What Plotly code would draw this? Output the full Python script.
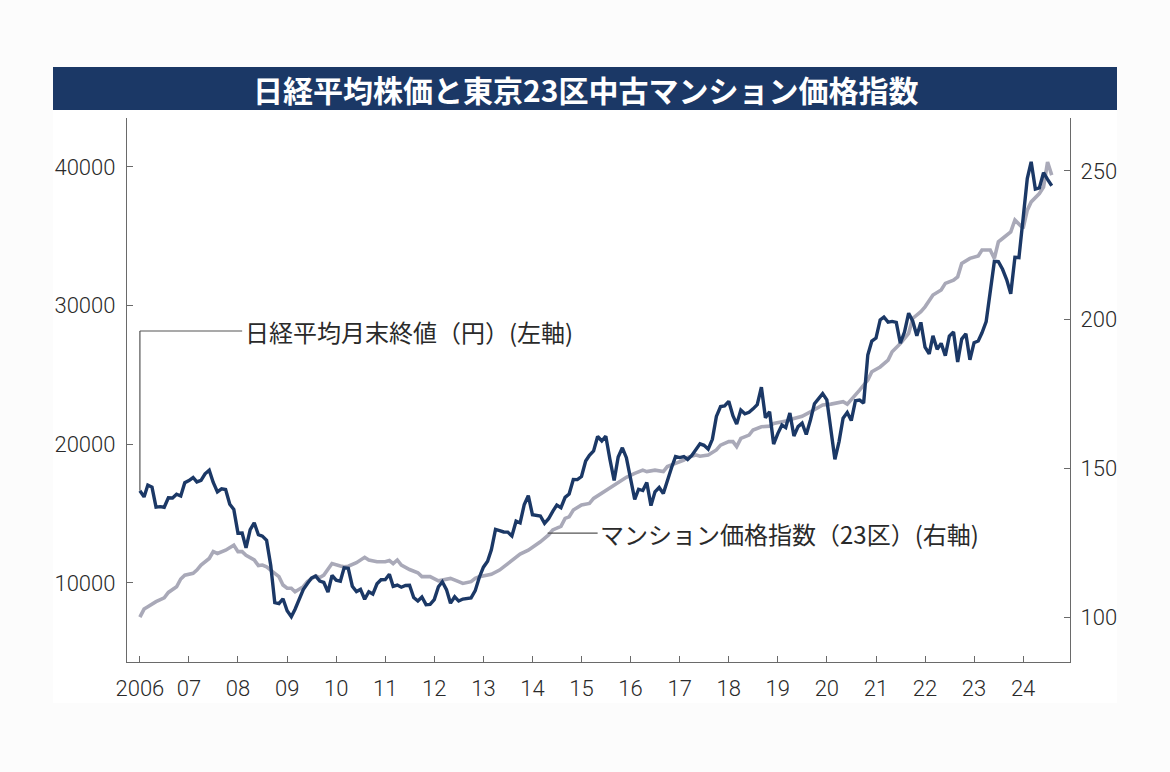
import pandas as pd
import plotly.graph_objects as go

# ---------------- data ----------------
title_text = "日経平均株価と東京23区中古マンション価格指数"
nikkei_label = "日経平均月末終値（円）(左軸)"
index_label = "マンション価格指数（23区）(右軸)"

# Nikkei 225 month-end close (yen), monthly from Jan 2006
nikkei_start = "2006-01-01"
nikkei_close = [
    16650, 16205, 17059, 16906, 15467, 15505, 15456, 16140, 16127, 16399, 16274, 17225,  # 2006
    17383, 17604, 17287, 17400, 17875, 18138, 17248, 16569, 16785, 16737, 15680, 15307,  # 2007
    13592, 13603, 12525, 13849, 14338, 13481, 13376, 13072, 11259, 8576, 8512, 8859,     # 2008
    7994, 7568, 8109, 8828, 9522, 9958, 10356, 10492, 10133, 10034, 9345, 10546,         # 2009
    10198, 10126, 11089, 11057, 9768, 9382, 9537, 8824, 9369, 9202, 9937, 10228,         # 2010
    10237, 10624, 9755, 9849, 9693, 9816, 9833, 8955, 8700, 8988, 8434, 8455,            # 2011
    8802, 9723, 10083, 9520, 8542, 9006, 8695, 8839, 8870, 8928, 9446, 10395,            # 2012
    11138, 11559, 12397, 13860, 13775, 13677, 13668, 13389, 14456, 14327, 15662, 16291,  # 2013
    14915, 14841, 14828, 14304, 14632, 15162, 15621, 15425, 16174, 16414, 17460, 17451,  # 2014
    17674, 18798, 19207, 19520, 20563, 20236, 20585, 18890, 17388, 19083, 19747, 19034,  # 2015
    17518, 16027, 16759, 16666, 17235, 15576, 16569, 16887, 16450, 17425, 18308, 19114,  # 2016
    19041, 19119, 18909, 19197, 19651, 20033, 19925, 19646, 20356, 22012, 22725, 22765,  # 2017
    23098, 22068, 21454, 22468, 22202, 22305, 22554, 22865, 24120, 21920, 22351, 20015,  # 2018
    20773, 21385, 21206, 22259, 20601, 21276, 21522, 20704, 21756, 22927, 23294, 23657,  # 2019
    23205, 21143, 18917, 20194, 21878, 22288, 21710, 23140, 23185, 22977, 26434, 27444,  # 2020
    27663, 28966, 29179, 28813, 28860, 28792, 27284, 28090, 29453, 28893, 27822, 28792,  # 2021
    27002, 26527, 27821, 26848, 27280, 26393, 27802, 28092, 25937, 27587, 27969, 26095,  # 2022
    27327, 27446, 28041, 28856, 30888, 33189, 33172, 32619, 31858, 30859, 33487, 33464,  # 2023
    36287, 39166, 40369, 38406, 38488, 39583, 39102, 38648,                              # 2024
]

# Tokyo 23-ward used condominium price index
index_dates = [
    "2006-01", "2006-02", "2006-03", "2006-05", "2006-07", "2006-08", "2006-10", "2006-11", "2006-12",
    "2007-02", "2007-03", "2007-04", "2007-06", "2007-07", "2007-08", "2007-09", "2007-10", "2007-12",
    "2008-01", "2008-02", "2008-03", "2008-05", "2008-06", "2008-07", "2008-08", "2008-10", "2008-11", "2008-12",
    "2009-01", "2009-02", "2009-03", "2009-05", "2009-06", "2009-08", "2009-09", "2009-10", "2009-12",
    "2010-02", "2010-03", "2010-04", "2010-06", "2010-08", "2010-09", "2010-11",
    "2011-01", "2011-02", "2011-03", "2011-04", "2011-05", "2011-07", "2011-09", "2011-10", "2011-12",
    "2012-02", "2012-03", "2012-05", "2012-07", "2012-08", "2012-10", "2012-11", "2012-12",
    "2013-02", "2013-03", "2013-05", "2013-07", "2013-08", "2013-10", "2013-12",
    "2014-01", "2014-03", "2014-05", "2014-06", "2014-08", "2014-09", "2014-10", "2014-11",
    "2015-01", "2015-03", "2015-04", "2015-06", "2015-08", "2015-09", "2015-11", "2015-12",
    "2016-02", "2016-04", "2016-05", "2016-07", "2016-09", "2016-10", "2016-12",
    "2017-02", "2017-03", "2017-05", "2017-06", "2017-08", "2017-10", "2017-11",
    "2018-01", "2018-02", "2018-03", "2018-04", "2018-06", "2018-07", "2018-09", "2018-11", "2018-12",
    "2019-02", "2019-04", "2019-05", "2019-07", "2019-09", "2019-11", "2019-12",
    "2020-02", "2020-04", "2020-05", "2020-06", "2020-08", "2020-09", "2020-11", "2020-12",
    "2021-02", "2021-04", "2021-05", "2021-07", "2021-09", "2021-10", "2021-12",
    "2022-01", "2022-03", "2022-05", "2022-06", "2022-08", "2022-09", "2022-10", "2022-12",
    "2023-02", "2023-03", "2023-05", "2023-06", "2023-07", "2023-08", "2023-10", "2023-11",
    "2024-01", "2024-02", "2024-03", "2024-05", "2024-06", "2024-07", "2024-08",
]
index_values = [
    100.0, 102.7, 103.5, 105.2, 106.5, 108.3, 110.2, 112.8, 114.1,
    114.7, 115.8, 117.5, 119.7, 122.0, 121.4, 122.0, 122.5, 124.2,
    122.0, 122.0, 120.8, 119.2, 117.3, 117.5, 116.9, 114.7, 113.6, 110.8,
    109.7, 109.7, 108.5, 110.2, 111.9, 113.9, 113.3, 114.1, 118.0,
    117.2, 116.9, 117.1, 118.3, 120.1, 119.2, 118.6,
    118.6, 119.0, 118.0, 119.2, 117.5, 116.0, 114.9, 113.6, 113.6,
    112.2, 112.4, 113.0, 111.9, 111.3, 111.9, 113.0, 113.6,
    114.1, 114.4, 115.8, 118.0, 119.2, 121.2, 122.5,
    123.4, 125.3, 127.6, 129.3, 130.5, 133.2, 133.7, 136.0,
    137.7, 138.2, 139.9, 141.6, 143.3, 144.4, 146.1, 147.0,
    148.3, 149.4, 148.9, 149.4, 148.9, 150.6, 151.7,
    152.8, 153.7, 154.5, 154.1, 154.5, 156.2, 157.8,
    159.0, 159.0, 157.3, 160.1, 161.2, 162.9, 164.0, 164.2, 165.1,
    165.7, 166.2, 166.8, 167.5, 169.0, 170.7, 171.3,
    171.6, 172.0, 172.4, 171.6, 174.6, 176.3, 179.7, 182.5,
    184.1, 186.4, 189.2, 192.0, 195.4, 200.4, 202.7,
    204.3, 208.3, 210.0, 212.2, 213.3, 214.4, 218.9, 220.6,
    221.4, 223.4, 223.4, 220.6, 226.2, 227.3, 229.5, 233.5,
    230.7, 236.8, 239.6, 242.4, 244.6, 253.0, 248.6,
]

year_tickvals = [f"{y}-01-01" for y in range(2006, 2025)]
year_ticktext = ["2006", "07", "08", "09", "10", "11", "12", "13", "14", "15",
                 "16", "17", "18", "19", "20", "21", "22", "23", "24"]
left_tickvals = [10000, 20000, 30000, 40000]
right_tickvals = [100, 150, 200, 250]

# ---------------- styling / layout constants ----------------
W, H = 1170, 772
ML, MR, MT, MB = 127, 100, 118, 110
NAVY = "#1b3866"
GREY = "#a9a9b8"
AXC = "#6a6a6a"
TXT = "#2a2a2a"
NUMFONT = "Roboto, Liberation Sans, sans-serif"
NUMSIZE = 22
CJK = "Noto Sans CJK JP, sans-serif"

def px(x):
    return (x - ML) / (W - ML - MR)

def py(y):
    return (H - MB - y) / (H - MT - MB)

nikkei_dates = pd.date_range(nikkei_start, periods=len(nikkei_close), freq="MS")

fig = go.Figure()
fig.add_trace(go.Scatter(
    x=pd.to_datetime(index_dates), y=index_values, yaxis="y", mode="lines",
    line=dict(color=GREY, width=3.6), hoverinfo="skip", showlegend=False))
fig.add_trace(go.Scatter(
    x=nikkei_dates, y=nikkei_close, yaxis="y2", mode="lines",
    line=dict(color=NAVY, width=3.4), hoverinfo="skip", showlegend=False))

numfont = dict(family=NUMFONT, size=NUMSIZE, color=TXT, weight=300)
fig.update_layout(
    width=W, height=H,
    margin=dict(l=ML, r=MR, t=MT, b=MB, pad=0),
    paper_bgcolor="#fcfcfc",
    plot_bgcolor="rgba(0,0,0,0)",
    showlegend=False,
    xaxis=dict(
        range=["2005-09-27", "2024-12-15"],
        tickvals=year_tickvals, ticktext=year_ticktext,
        showline=True, linecolor=AXC, linewidth=1.3,
        ticks="inside", ticklen=6, tickcolor=AXC, tickwidth=1,
        showgrid=False, zeroline=False,
        tickfont=numfont,
        ticklabelstandoff=6,
    ),
    yaxis=dict(
        side="right", range=[84.9, 267.8],
        tickvals=right_tickvals,
        showline=True, linecolor=AXC, linewidth=1.3,
        ticks="inside", ticklen=6, tickcolor=AXC, tickwidth=1,
        showgrid=False, zeroline=False,
        tickfont=numfont,
        ticklabelstandoff=5,
    ),
    yaxis2=dict(
        overlaying="y", side="left", range=[4300, 43530],
        tickvals=left_tickvals, tickformat="d",
        showline=True, linecolor=AXC, linewidth=1.3,
        ticks="inside", ticklen=6, tickcolor=AXC, tickwidth=1,
        showgrid=False, zeroline=False,
        tickfont=numfont,
        ticklabelstandoff=6,
    ),
)

shapes = [
    # white card
    dict(type="rect", xref="paper", yref="paper", x0=px(53), x1=px(1117), y0=py(703), y1=py(67),
         fillcolor="white", line=dict(width=0), layer="below"),
    # title bar
    dict(type="rect", xref="paper", yref="paper", x0=px(53), x1=px(1117), y0=py(110), y1=py(67),
         fillcolor=NAVY, line=dict(width=0), layer="above"),
    # leader line for Nikkei label
    dict(type="line", xref="x", yref="y2", x0=nikkei_dates[0], x1=nikkei_dates[0],
         y0=nikkei_close[0], y1=28170, line=dict(color="#555", width=1.2)),
    dict(type="line", xref="x", yref="y2", x0=nikkei_dates[0], x1="2008-02-01",
         y0=28170, y1=28170, line=dict(color="#555", width=1.2)),
    # leader line for index label
    dict(type="line", xref="x", yref="y", x0="2014-04-24", x1="2015-05-01",
         y0=128.2, y1=128.2, line=dict(color="#555", width=1.2)),
]
fig.update_layout(shapes=shapes)

fig.add_annotation(text=f"<b>{title_text}</b>", xref="paper", yref="paper",
                   x=px(585), y=py(89), xanchor="center", yanchor="middle", showarrow=False,
                   font=dict(family=CJK, size=30, color="white"))
fig.add_annotation(text=nikkei_label, xref="x", yref="y2", x="2008-02-06", y=28170,
                   xanchor="left", yanchor="middle", showarrow=False,
                   font=dict(family=CJK, size=24, color=TXT))
fig.add_annotation(text=index_label, xref="x", yref="y", x="2015-05-06", y=128.2,
                   xanchor="left", yanchor="middle", showarrow=False,
                   font=dict(family=CJK, size=24, color=TXT))

fig.write_html("out.html", config={"displayModeBar": False},
               post_script="document.body.style.margin='0';")
